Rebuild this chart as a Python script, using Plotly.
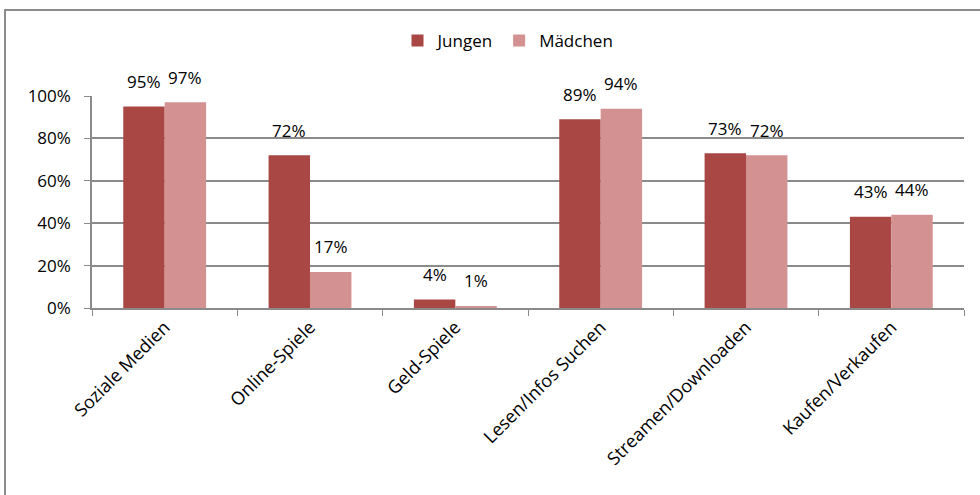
import plotly.graph_objects as go

categories = ["Soziale Medien", "Online-Spiele", "Geld-Spiele",
              "Lesen/Infos Suchen", "Streamen/Downloaden", "Kaufen/Verkaufen"]
jungen = [95, 72, 4, 89, 73, 43]
maedchen = [97, 17, 1, 94, 72, 44]
y_ticks = [0, 20, 40, 60, 80, 100]
y_tick_labels = ["0%", "20%", "40%", "60%", "80%", "100%"]

C_J = "#A94745"
C_M = "#D39291"
FONT = "Open Sans"
FS = 17
GRID = "#8a8a8a"

fig = go.Figure()
fig.add_bar(x=categories, y=jungen, name="Jungen", marker_color=C_J,
            marker_line_width=0)
fig.add_bar(x=categories, y=maedchen, name="Mädchen", marker_color=C_M,
            marker_line_width=0)

half = (1 - 0.43) / 4
annotations = []
for i in range(len(categories)):
    for off, vals in ((-half, jungen), (half, maedchen)):
        annotations.append(dict(
            x=i + off, y=vals[i], xref="x", yref="y",
            text=f"{vals[i]}%", showarrow=False,
            yanchor="middle", yshift=25,
            font=dict(family=FONT, size=FS, color="#000000")))

L, R, T, B = 92, 16, 96, 187
W, H = 980, 495
pw = W - L - R
ph = H - T - B
def px2x(px):
    return (px - L) / pw
def py2y(py):
    return (H - B - py) / ph

fig.update_layout(
    width=W, height=H,
    margin=dict(l=L, r=R, t=T, b=B),
    paper_bgcolor="white", plot_bgcolor="white",
    barmode="group", bargap=0.43, bargroupgap=0,
    font=dict(family=FONT, size=FS, color="#000000"),
    showlegend=True,
    legend=dict(orientation="h", x=px2x(508), xanchor="center",
                y=py2y(41), yanchor="middle",
                font=dict(family=FONT, size=FS),
                itemwidth=30, tracegroupgap=0,
                bgcolor="rgba(0,0,0,0)"),
    xaxis=dict(tickangle=-45, showgrid=False, showline=True,
               linecolor=GRID, linewidth=1.5, ticks="outside",
               tickson="boundaries", ticklen=6, tickcolor=GRID,
               tickfont=dict(family=FONT, size=18)),
    yaxis=dict(range=[0, 100], tickvals=y_ticks, ticktext=y_tick_labels,
               showgrid=True, gridcolor=GRID, gridwidth=1.5,
               showline=True, linecolor=GRID, linewidth=1.5,
               ticks="outside", ticklen=6, tickcolor=GRID,
               ticklabelstandoff=10,
               zeroline=False, tickfont=dict(family=FONT, size=FS)),
    annotations=annotations,
    shapes=[dict(type="rect", xref="paper", yref="paper",
                 x0=px2x(5), x1=px2x(995), y0=py2y(505), y1=py2y(10),
                 line=dict(color="#8c8c8c", width=2), layer="below")],
)

fig.write_html("out.html", config={"displayModeBar": False},
               post_script="document.body.style.margin='0';document.body.style.overflow='hidden';")
